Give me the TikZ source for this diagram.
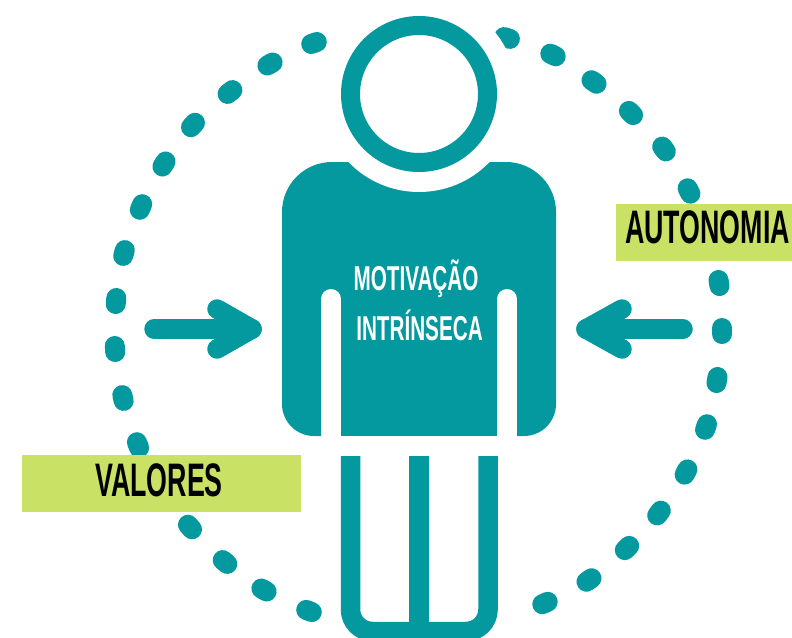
\documentclass[tikz,border=0pt]{standalone}
\usepackage{fontspec}
\setmainfont{Liberation Sans}
\newfontfamily\tagfont[FakeStretch=0.57]{Liberation Sans Bold}
\newfontfamily\shirtfont[FakeStretch=0.6]{Liberation Sans Bold}
\definecolor{petrol}{HTML}{04989F}
\definecolor{lime}{HTML}{C9E265}
\tikzset{
  spot/.style = {petrol, line width=20pt, line cap=round},
  limb/.style = {petrol, line width=19.5pt},
  gap/.style = {white, line width=20pt, line cap=round},
  pointer/.style = {petrol, line width=19.5pt, line cap=round, line join=round},
  tagbox/.style = {fill=lime},
  tagtext/.style = {anchor=base, inner sep=0pt, font=\tagfont\fontsize{47}{47}\selectfont},
  shirttext/.style = {anchor=base, inner sep=0pt, text=white, font=\shirtfont\fontsize{34.5}{34.5}\selectfont}
}
\begin{document}
\begin{tikzpicture}[x=1pt, y=-1pt]
\useasboundingbox (0,0) rectangle (792,637);
\clip (0,0) rectangle (792,637);
% dotted ring
\begin{scope}
\clip (0,0) rectangle (732,637);
\draw[spot] (311.2,44) -- (316.8,42);
\draw[spot] (267.4,65.5) -- (272.6,62.5);
\draw[spot] (227.6,93.9) -- (232.4,90.1);
\draw[spot] (191,127.2) -- (195,122.8);
\draw[spot] (162.4,166.5) -- (165.6,161.5);
\draw[spot] (139.8,209.8) -- (142.2,204.2);
\draw[spot] (123.2,255.9) -- (124.8,250.1);
\draw[spot] (115.7,304) -- (116.3,298);
\draw[spot] (115.2,352) -- (114.8,346);
\draw[spot] (123.7,400.9) -- (122.3,395.1);
\draw[spot] (139.1,447.8) -- (136.9,442.2);
\draw[spot] (192,529.3) -- (188,524.7);
\draw[spot] (227.3,563.9) -- (222.7,560.1);
\draw[spot] (266.6,591.5) -- (261.4,588.5);
\draw[spot] (311.8,612.1) -- (306.2,609.9);
\draw[spot] (504.1,37.1) -- (509.9,38.9);
\draw[spot] (550.3,53.7) -- (555.7,56.3);
\draw[spot] (591.5,80.3) -- (596.5,83.7);
\draw[spot] (628.9,110.9) -- (633.1,115.1);
\draw[spot] (662.2,146.6) -- (665.8,151.4);
\draw[spot] (687.6,188.3) -- (690.4,193.7);
\draw[spot] (718.5,280) -- (719.5,286);
\draw[spot] (722,328) -- (722,334);
\draw[spot] (717.5,377) -- (716.5,383);
\draw[spot] (707,424.2) -- (705,429.8);
\draw[spot] (687.4,469.4) -- (684.6,474.6);
\draw[spot] (660.8,510.6) -- (657.2,515.4);
\draw[spot] (629.2,545.9) -- (624.8,550.1);
\draw[spot] (591.5,578.3) -- (586.5,581.7);
\draw[spot] (547.7,601.8) -- (542.3,604.2);
\end{scope}
% person
\fill[petrol] (282,300) -- (282,212) arc[start angle=180, end angle=270, radius=50]
  -- (506,162) arc[start angle=270, end angle=360, radius=50]
  -- (556,404) arc[start angle=0, end angle=90, radius=32]
  -- (314,436) arc[start angle=90, end angle=180, radius=32] -- cycle;
\fill[white] (419,94) circle[radius=98];
\draw[petrol, line width=19pt] (419,94) circle[radius=68.5];
\draw[gap] (331,299) -- (331,440);
\draw[gap] (507,299) -- (507,440);
\fill[white] (321,436) rectangle (517,456);
\draw[limb, rounded corners=22pt] (350.5,456) -- (350.5,631.5) -- (488,631.5) -- (488,456);
\draw[limb] (419,456) -- (419,631.5);
% arrows
\coordinate (leftfrom) at (154,329);
\coordinate (leftto) at (252,329);
\coordinate (leftup) at (217,309);
\coordinate (leftdown) at (217,349);
\coordinate (rightfrom) at (683,329);
\coordinate (rightto) at (586,329);
\coordinate (rightup) at (622,309);
\coordinate (rightdown) at (622,349);
\draw[pointer] (leftfrom) -- (leftto);
\draw[pointer] (leftup) -- (leftto) -- (leftdown);
\draw[pointer] (rightfrom) -- (rightto);
\draw[pointer] (rightup) -- (rightto) -- (rightdown);
% labels
\fill[tagbox] (616,204) rectangle (792,261);
\fill[tagbox] (22,455) rectangle (301,512);
\node[tagtext] (autonomia) at (707.5,243) {AUTONOMIA};
\node[tagtext] (valores) at (159,496) {VALORES};
\node[shirttext] (motivacao) at (416,290) {MOTIVAÇÃO};
\node[shirttext] (intrinseca) at (419.5,340) {INTRÍNSECA};
\end{tikzpicture}
\end{document}
